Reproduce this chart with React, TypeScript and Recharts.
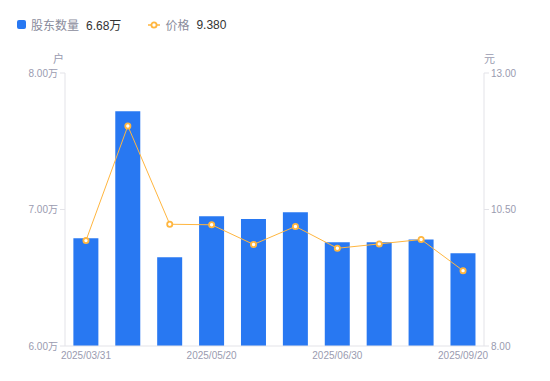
import React from 'react'
import { ComposedChart, Bar, Line, XAxis, YAxis } from 'recharts'

const dates = [
  '2025/03/31', '2025/04/10', '2025/04/30', '2025/05/20', '2025/05/31',
  '2025/06/20', '2025/06/30', '2025/07/31', '2025/08/31', '2025/09/20',
]
const holders = [6.79, 7.72, 6.65, 6.95, 6.93, 6.98, 6.76, 6.76, 6.78, 6.68]
const prices = [9.93, 12.03, 10.23, 10.22, 9.86, 10.19, 9.79, 9.87, 9.95, 9.38]

const leftTicks = [6, 7, 8]
const rightTicks = [8, 10.5, 13]

const data = dates.map((d, i) => ({ date: d, holders: holders[i], price: prices[i] }))

const FONT = '"Liberation Sans", Arial, "Noto Sans CJK SC", sans-serif'
const BLUE = '#2878f2'
const ORANGE = '#ffb63f'
const AXIS_TEXT = '#9a9bb0'
const AXIS_LINE = '#e3e3e8'

export default function App() {
  const tick = { fontSize: 10, fill: AXIS_TEXT, fontFamily: FONT }
  return (
    <div style={{ position: 'absolute', left: 0, top: 0, width: 550, height: 381, background: '#fff', fontFamily: FONT }}>
      {/* legend */}
      <div style={{ position: 'absolute', left: 17, top: 16, height: 17, display: 'flex', alignItems: 'center', fontSize: 12 }}>
        <span style={{ width: 9, height: 9, background: BLUE, borderRadius: 2, display: 'inline-block' }} />
        <span style={{ marginLeft: 5, color: '#8a8c9c' }}>股东数量</span>
        <span style={{ marginLeft: 7, color: '#333' }}>6.68万</span>
        <svg width={12} height={10} style={{ marginLeft: 27 }}>
          <line x1={0} y1={5} x2={12} y2={5} stroke={ORANGE} strokeWidth={1.5} />
          <circle cx={6} cy={5} r={2.6} fill="#fff" stroke={ORANGE} strokeWidth={1.8} />
        </svg>
        <span style={{ marginLeft: 5, color: '#8a8c9c' }}>价格</span>
        <span style={{ marginLeft: 7, color: '#333' }}>9.380</span>
      </div>
      <span style={{ position: 'absolute', left: 53, top: 50, fontSize: 11, color: AXIS_TEXT }}>户</span>
      <span style={{ position: 'absolute', left: 484, top: 50, fontSize: 11, color: AXIS_TEXT }}>元</span>

      <ComposedChart
        width={550}
        height={381}
        data={data}
        margin={{ top: 73, right: 16, bottom: 5, left: 15 }}
        barCategoryGap="20%"
      >
        <XAxis
          dataKey="date"
          interval={2}
          tick={tick}
          tickLine={false}
          tickSize={4}
          tickMargin={2}
          height={30}
          axisLine={{ stroke: AXIS_LINE }}
        />
        <YAxis
          yAxisId="left"
          domain={[6, 8]}
          ticks={leftTicks}
          tickFormatter={(v: number) => v.toFixed(2) + '万'}
          tick={tick}
          tickSize={5}
          tickLine={{ stroke: AXIS_LINE }}
          axisLine={{ stroke: AXIS_LINE }}
          width={50}
          allowDataOverflow
        />
        <YAxis
          yAxisId="right"
          orientation="right"
          domain={[8, 13]}
          ticks={rightTicks}
          tickFormatter={(v: number) => v.toFixed(2)}
          tick={tick}
          tickSize={5}
          tickLine={{ stroke: AXIS_LINE }}
          axisLine={{ stroke: AXIS_LINE }}
          width={50}
          allowDataOverflow
        />
        <Bar yAxisId="left" dataKey="holders" fill={BLUE} isAnimationActive={false} />
        <Line
          yAxisId="right"
          dataKey="price"
          type="linear"
          stroke={ORANGE}
          strokeWidth={1}
          dot={{ r: 2.6, fill: '#fff', stroke: ORANGE, strokeWidth: 1.8 }}
          activeDot={false}
          isAnimationActive={false}
        />
      </ComposedChart>
    </div>
  )
}
